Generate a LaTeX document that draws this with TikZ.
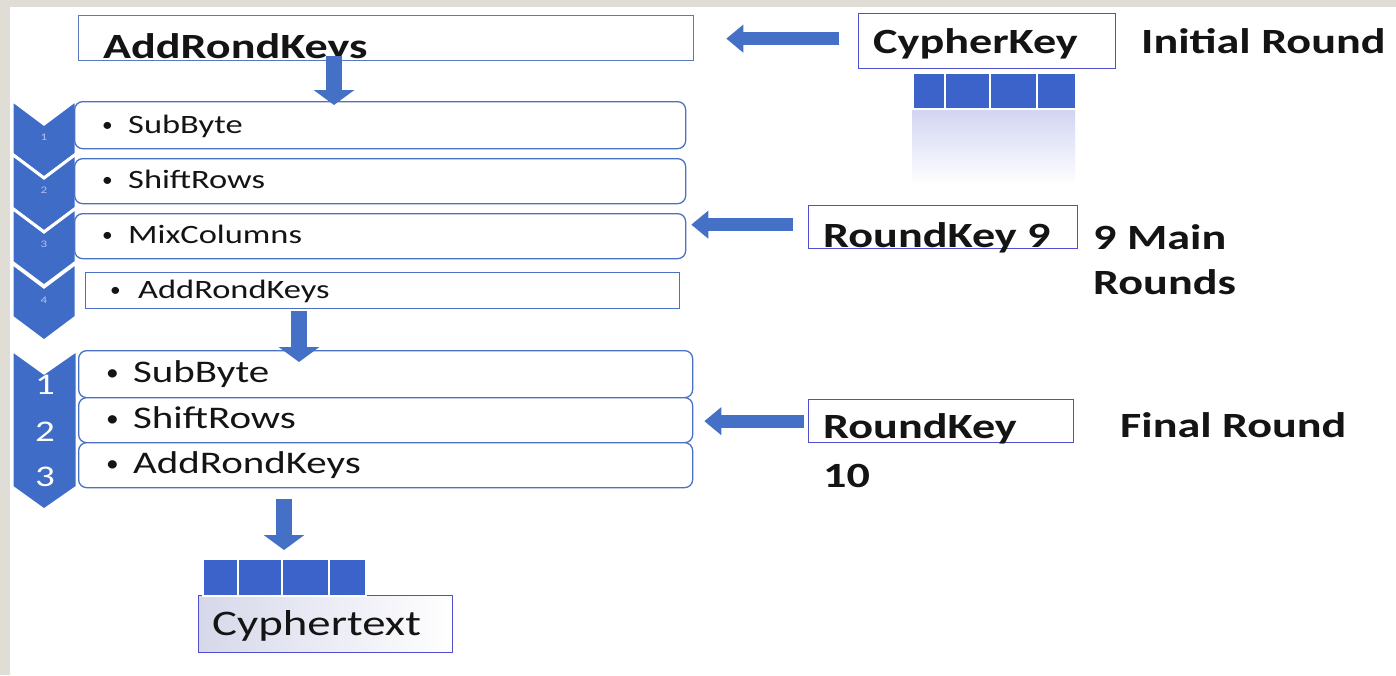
\documentclass[tikz,border=0pt]{standalone}
\usepackage{fontspec}
\usepackage{graphicx}
\setmainfont{Carlito}[FakeStretch=1.3]
\usetikzlibrary{arrows.meta}
\definecolor{bggray}{HTML}{E0DDD7}
\definecolor{arrowblue}{HTML}{4470C6}
\definecolor{chevblue}{HTML}{3F6CC6}
\definecolor{cellblue}{HTML}{3C63C9}
\definecolor{panelline}{HTML}{4A72C4}
\definecolor{topline}{HTML}{5A78BE}
\definecolor{keyline}{HTML}{5050CC}
\definecolor{refl}{HTML}{D2D5F2}
\definecolor{ctfill}{HTML}{D6D8EA}
\definecolor{numfaint}{HTML}{B4C4EC}
\definecolor{txt}{HTML}{141414}
\newcommand\bitem[2]{\makebox[#1][l]{\raisebox{0.06em}{\scalebox{0.62}[0.75]{\textbullet}}}#2}
\tikzset{
  panel/.style={draw=panelline, line width=1.3pt, rounded corners=8pt, fill=white, inner sep=0pt, anchor=north west},
  sqpanel/.style={draw=panelline, line width=1.3pt, fill=white, inner sep=0pt, anchor=north west},
  keybox/.style={draw=keyline, line width=1.3pt, inner sep=0pt, anchor=north west},
  cell/.style={fill=cellblue, draw=white, line width=1.5pt, inner sep=0pt, anchor=north west},
  chev/.style={fill=chevblue, draw=white, line width=3pt, line join=miter},
  vblock/.style={arrowblue, line width=16pt, -{Triangle[width=40pt,length=15pt]}},
  hblock/.style={arrowblue, line width=13pt, -{Triangle[width=27pt,length=17pt]}},
  big/.style={font=\fontsize{35.5}{40}\selectfont\bfseries, inner sep=0pt, anchor=base west, text=txt},
  gone/.style={font=\fontsize{26.5}{30}\selectfont, inner sep=0pt, anchor=base west, text=txt},
  gtwo/.style={font=\fontsize{31.5}{36}\selectfont, inner sep=0pt, anchor=base west, text=txt},
  numone/.style={font=\fontsize{10}{12}\selectfont, inner sep=0pt, text=numfaint},
  numtwo/.style={font=\fontsize{30}{34}\selectfont, inner sep=0pt, text=white},
}
\begin{document}
\begin{tikzpicture}[x=1pt,y=-1pt]
\useasboundingbox (0,0) rectangle (1396,675);
\fill[bggray] (0,0) rectangle (1396,675);
\fill[white] (10,7) rectangle (1396,675);

% chevrons, first group
\foreach \t in {100,154,208,263}{
  \draw[chev] (12,\t) -- (44,\t+24) -- (76,\t) -- (76,\t+54) -- (44,\t+78) -- (12,\t+54) -- cycle;
}
% chevron, final group
\draw[chev] (12,350) -- (44,373) -- (77,350) -- (77,487) -- (44,510) -- (12,487) -- cycle;

\node[numone] (n1) at (44,137) {1};
\node[numone] (n2) at (44,190) {2};
\node[numone] (n3) at (44,244) {3};
\node[numone] (n4) at (44,300) {4};
\node[numtwo] (m1) at (45,385) {1};
\node[numtwo] (m2) at (45,432) {2};
\node[numtwo] (m3) at (45,477) {3};

% top box
\node[keybox, draw=topline, minimum width=615pt, minimum height=45pt] (top) at (78,15) {};
\node[big] (topt) at (103,58) {AddRondKeys};

% main round panels
\node[panel, minimum width=611pt, minimum height=47pt] (sb1) at (74,101) {};
\node[panel, minimum width=611pt, minimum height=45pt] (sr1) at (74,158) {};
\node[panel, minimum width=611pt, minimum height=45pt] (mc1) at (74,213) {};
\node[sqpanel, minimum width=594pt, minimum height=36pt] (ak1) at (85,272) {};
\node[gone] (tsb1) at (102,133) {\bitem{26pt}{SubByte}};
\node[gone] (tsr1) at (102,188) {\bitem{26pt}{ShiftRows}};
\node[gone] (tmc1) at (102,243) {\bitem{26pt}{MixColumns}};
\node[gone] (tak1) at (110,298) {\bitem{28pt}{AddRondKeys}};

% final round panels
\node[panel, minimum width=614pt, minimum height=47pt] (sb2) at (78,350) {};
\node[panel, minimum width=614pt, minimum height=45pt] (sr2) at (78,397) {};
\node[panel, minimum width=614pt, minimum height=45pt] (ak2) at (78,442) {};
\node[gtwo] (tsb2) at (106,382) {\bitem{27pt}{SubByte}};
\node[gtwo] (tsr2) at (106,428) {\bitem{27pt}{ShiftRows}};
\node[gtwo] (tak2) at (106,473) {\bitem{27pt}{AddRondKeys}};

% cypher key
\node[keybox, minimum width=257pt, minimum height=55pt] (ck) at (858,13) {};
\node[big] (ckt) at (873,53) {CypherKey};
\node[big] (init) at (1141,53) {Initial Round};
\shade[top color=refl, bottom color=white] (912,110) rectangle (1075,185);
\node[cell, minimum width=32pt, minimum height=36pt] (k1) at (912,72) {};
\node[cell, minimum width=45pt, minimum height=36pt] (k2) at (944,72) {};
\node[cell, minimum width=47pt, minimum height=36pt] (k3) at (989,72) {};
\node[cell, minimum width=39pt, minimum height=36pt] (k4) at (1036,72) {};

% round key 9
\node[keybox, minimum width=269pt, minimum height=43pt] (rk9) at (808,205) {};
\node[big] (rk9t) at (823,247) {RoundKey 9};
\node[big] (mainA) at (1093,249) {9 Main};
\node[big] (mainB) at (1093,294) {Rounds};

% round key 10
\node[keybox, minimum width=265pt, minimum height=43pt] (rk10) at (808,399) {};
\node[big] (rk10a) at (823,438) {RoundKey};
\node[big] (rk10b) at (823,487) {10};
\node[big] (fin) at (1120,437) {Final Round};

% cyphertext
\node[keybox, minimum width=254pt, minimum height=57pt, left color=ctfill, right color=white] (ct) at (198,595) {};
\node[big, font=\fontsize{36}{40}\selectfont] (ctt) at (212,635) {Cyphertext};
\node[cell, minimum width=35pt, minimum height=37pt] (c1) at (202,558) {};
\node[cell, minimum width=44pt, minimum height=37pt] (c2) at (237,558) {};
\node[cell, minimum width=47pt, minimum height=37pt] (c3) at (281,558) {};
\node[cell, minimum width=37pt, minimum height=37pt] (c4) at (328,558) {};

% block arrows
\draw[vblock] ([shift={(256,-5)}]top.south west) -- ([shift={(260,4)}]sb1.north west);
\draw[vblock] ([shift={(214,2)}]ak1.south west) -- ([shift={(221,12)}]sb2.north west);
\draw[vblock] ([shift={(206,11)}]ak2.south west) -- ([shift={(47,-8)}]c2.north west);
\draw[hblock] ([shift={(-19,-2.5)}]ck.west) -- ([shift={(32,0.5)}]top.east);
\draw[hblock] ([shift={(-15,-2.5)}]rk9.west) -- ([shift={(5,-11.5)}]mc1.east);
\draw[hblock] ([xshift=-4pt]rk10.west) -- ([shift={(11,1)}]sr2.east);
\end{tikzpicture}
\end{document}
